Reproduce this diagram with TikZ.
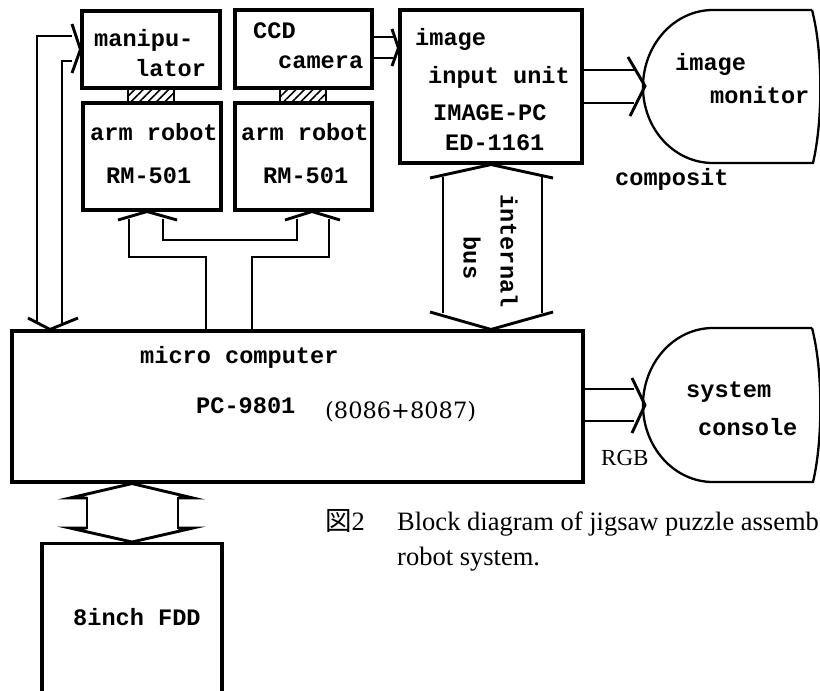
\documentclass[tikz,border=0pt]{standalone}
\usepackage{fontspec}
\setmonofont{Liberation Mono}
\newfontfamily\capfont{Liberation Serif}
\newfontfamily\numfont{DejaVu Serif}
\newfontfamily\cjk{Noto Sans CJK JP}
\usetikzlibrary{patterns.meta}

\begin{document}
\begin{tikzpicture}[
  x=1pt, y=-1pt,
  box/.style={draw,line width=3.1pt,inner sep=0pt},
  hatch/.style={draw,line width=2.2pt,pattern={Lines[angle=45,distance=6pt,line width=1.6pt]}},
  tt/.style={font=\ttfamily\bfseries\fontsize{23.6}{28}\selectfont,inner sep=0pt,anchor=base west},
  captext/.style={font=\capfont\fontsize{26.5}{30}\selectfont,inner sep=0pt,anchor=base west},
  pipe/.style={line width=2.9pt,line join=miter},
  crt/.style={line width=2.3pt}
]
\useasboundingbox (0,0) rectangle (820,691);
\clip (0,0) rectangle (820,691);

% blocks
\node[box,minimum width=138pt,minimum height=77pt] (manip) at (151,49.5) {};
\node[box,minimum width=138pt,minimum height=107pt] (arm1) at (152,156.5) {};
\node[box,minimum width=137pt,minimum height=78pt] (ccd) at (303.5,49) {};
\node[box,minimum width=137pt,minimum height=107pt] (arm2) at (303.5,156.5) {};
\node[box,minimum width=182pt,minimum height=153pt] (iiu) at (491,86.5) {};
\node[box,minimum width=571pt,minimum height=151pt] (micro) at (297.5,406.5) {};
\node[box,minimum width=180pt,minimum height=180pt,anchor=north] (fdd) at (132,542) {};
\draw[hatch] (128,88) rectangle (174,103);
\draw[hatch] (280,88) rectangle (326,103);

% monitors
\draw[crt] (812,10) -- (713,10) .. controls (674,10) and (643,45) .. (643,87)
  .. controls (643,129) and (674,163) .. (713,163) -- (813,163)
  .. controls (823,120) and (823,52) .. (812,10);
\draw[crt] (812,328) -- (713,328) .. controls (674,328) and (643,363) .. (643,405)
  .. controls (643,447) and (674,482) .. (713,482) -- (813,482)
  .. controls (823,440) and (823,370) .. (812,328);
\coordinate (montip) at (645,86);
\coordinate (contip) at (645,405);

% manipulator <-> micro computer
\draw[pipe] (72,36) -- (37,36) -- (37,323);
\draw[pipe] (72,61) -- (62,61) -- (62,323);
\draw[pipe] (72,24) -- (manip.west) -- (72,73);
\draw[pipe] (28,318) -- (50,0 |- micro.north) -- (78,318);

% micro computer -> arm robots
\draw[pipe] (118,220) -- (147,0 |- arm1.south) -- (177,220);
\draw[pipe] (285,220) -- (312,0 |- arm2.south) -- (340,220);
\draw[pipe] (129,219) -- (129,257) -- (206,257) -- (206,0 |- micro.north);
\draw[pipe] (163,219) -- (163,240) -- (297,240) -- (297,219);
\draw[pipe] (329,219) -- (329,257) -- (252,257) -- (252,0 |- micro.north);

% camera -> image input unit
\draw[pipe] (ccd.east |- 0,37) -- (394,37);
\draw[pipe] (ccd.east |- 0,58) -- (394,58);
\draw[pipe] (392,29) -- (iiu.west |- 0,48) -- (392,66);

% image input unit -> monitor
\draw[pipe] (iiu.east |- 0,70) -- (634,70);
\draw[pipe] (iiu.east |- 0,103) -- (634,103);
\draw[pipe] (628,57) -- (montip) -- (630,116);

% internal bus
\draw[pipe] (430,178) -- (iiu.south) -- (553,178);
\draw[pipe] (443,177) -- (443,313);
\draw[pipe] (542,177) -- (542,313);
\draw[pipe] (430,312) -- (iiu.south |- micro.north) -- (553,312);

% micro computer -> console
\draw[pipe] (micro.east |- 0,389) -- (634,389);
\draw[pipe] (micro.east |- 0,421) -- (634,421);
\draw[pipe] (632,378) -- (contip) -- (632,433);

% micro computer <-> FDD
\draw[pipe] (87,498) -- (70,498) -- (fdd.north |- micro.south) -- (193,498) -- (178,498);
\draw[pipe] (87,497) -- (87,529);
\draw[pipe] (178,497) -- (178,529);
\draw[pipe] (87,528) -- (70,528) -- (fdd.north) -- (193,528) -- (178,528);

% texts
\node[tt] (tmanip) at (94,46) {manipu-};
\node[tt] (tlator) at (135,76) {lator};
\node[tt] (tccd) at (253,38) {CCD};
\node[tt] (tcam) at (278,68) {camera};
\node[tt] (tarm1) at (90,140) {arm robot};
\node[tt] (trm1) at (106,183) {RM-501};
\node[tt] (tarm2) at (241,140) {arm robot};
\node[tt] (trm2) at (263,183) {RM-501};
\node[tt] (timg) at (415,45) {image};
\node[tt] (tinp) at (428,83) {input unit};
\node[tt] (tipc) at (433,120) {IMAGE-PC};
\node[tt] (ted) at (445,150) {ED-1161};
\node[tt] (tmon1) at (675,70) {image};
\node[tt] (tmon2) at (710,103) {monitor};
\node[tt] (tcomp) at (615,185) {composit};
\node[tt,anchor=center,rotate=-90] (tint) at (509,251) {internal};
\node[tt,anchor=center,rotate=-90] (tbus) at (472,258) {bus};
\node[tt] (tmicro) at (140,363) {micro computer};
\node[tt] (tpc) at (196,413) {PC-9801};
\node[font=\numfont\fontsize{22.5}{26}\selectfont,inner sep=0pt,anchor=base west] (tcpu) at (325,418) {(8086+8087)};
\node[tt] (tsys) at (686,397) {system};
\node[tt] (tcon) at (698,435) {console};
\node[font=\capfont\fontsize{23}{26}\selectfont,inner sep=0pt,anchor=base west] (trgb) at (601,465) {RGB};
\node[tt] (tfdd) at (73,625) {8inch FDD};

% caption
\node[captext] (cfig) at (325,530) {{\cjk 図}2};
\node[captext] (cline1) at (397,530) {Block diagram of jigsaw puzzle assemb};
\node[captext] (cline2) at (397,565) {robot system.};
\end{tikzpicture}
\end{document}
